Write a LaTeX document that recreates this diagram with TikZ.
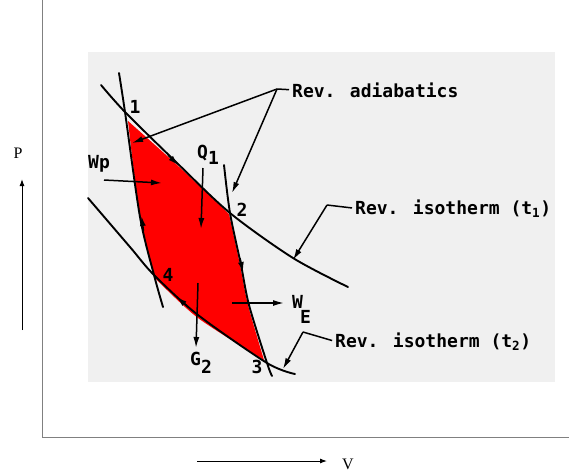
\documentclass[tikz,border=0pt]{standalone}
\usepackage{fontspec}
\setmainfont{Liberation Serif}
\newfontfamily\lettering{DejaVu Sans Mono}
\usetikzlibrary{arrows.meta}
\definecolor{axisgray}{HTML}{808080}
\definecolor{scangray}{HTML}{F0F0F0}
\definecolor{cyclered}{HTML}{FF0000}

\begin{document}
\begin{tikzpicture}[x=1pt, y=-1pt,
    curve/.style={line width=1.9pt, line cap=round},
    leader/.style={line width=1.5pt},
    arrow/.style={-{Latex[length=11pt,width=6pt]}, line width=1.5pt},
    flowtip/.style={-{Latex[length=10pt,width=6pt]}, line width=1.5pt},
    lbl/.style={font=\lettering\bfseries\fontsize{18}{20}\selectfont, inner sep=0pt},
    axis/.style={draw=axisgray, line width=0.8pt},
    axarrow/.style={-{Latex[length=7pt,width=5pt]}, line width=1pt},
    axlabel/.style={font=\fontsize{16}{18}\selectfont, inner sep=0pt}
]
    \useasboundingbox (0,0) rectangle (569,472);

    % scanned sheet
    \fill[scangray] (88,52) rectangle (555,382);

    % cycle area
    \fill[cyclered] plot[smooth] coordinates {(128,121) (176,164) (229,214)}
        -- plot[smooth] coordinates {(229,214) (240,265) (248,305) (264,360)}
        -- plot[smooth] coordinates {(264,360) (198,318) (155,278)}
        -- plot[smooth] coordinates {(155,278) (140,217) (128,121)} -- cycle;

    % state points
    \coordinate (p1) at (125,112);
    \coordinate (p2) at (230,213);
    \coordinate (p3) at (267,363);
    \coordinate (p4) at (154,275);

    % isotherms
    \draw[curve] plot[smooth] coordinates {(101,85) (p1) (176,162) (p2) (293,258) (348,287)};
    \draw[curve] plot[smooth] coordinates {(88,198) (130,247) (p4) (198,315) (p3) (295,374)};

    % adiabatics
    \draw[curve] plot[smooth] coordinates {(119,73) (p1) (140,217) (p4) (163,307)};
    \draw[curve] plot[smooth] coordinates {(224,165) (p2) (241,265) (249,305) (p3) (272,376)};

    % direction of the cycle
    \draw[flowtip] (168,155) -- (178,165);
    \draw[flowtip] (240,258) -- (243,272);
    \draw[flowtip] (188,307) -- (177,297);
    \draw[flowtip] (143.5,231) -- (141.5,216);

    % point labels
    \node[lbl] (n1) at (135,107) {1};
    \node[lbl] (n2) at (242,210) {2};
    \node[lbl] (n3) at (257,367) {3};
    \node[lbl] (n4) at (168,275) {4};

    % heat and work
    \node[lbl, anchor=base west] (wp) at (88,168) {Wp};
    \coordinate (wpfoot) at (104,180);
    \coordinate (wptip) at (162,183);
    \draw[arrow] (wpfoot) -- (wptip);

    \node[lbl, anchor=base west] (q1) at (197,158) {Q\raisebox{-6pt}{1}};
    \coordinate (q1foot) at (203,168);
    \coordinate (q1tip) at (201,229);
    \draw[arrow] (q1foot) -- (q1tip);

    \node[lbl, anchor=base west] (g2) at (190,365) {G\raisebox{-8pt}{2}};
    \coordinate (g2foot) at (198,283);
    \coordinate (g2tip) at (196,348);
    \draw[arrow] (g2foot) -- (g2tip);

    \node[lbl, anchor=base west] (we) at (292,308) {W\kern-3pt\raisebox{-15pt}{E}};
    \coordinate (wefoot) at (232,303);
    \coordinate (wetip) at (284,303);
    \draw[arrow] (wefoot) -- (wetip);

    % Rev. adiabatics
    \node[lbl, anchor=base west] (adtext) at (292,97) {Rev. adiabatics};
    \coordinate (adjoin) at (277,89);
    \coordinate (adtip1) at (132,143);
    \coordinate (adtip2) at (232,193);
    \draw[leader, shorten >=3pt] (adjoin) -- (adtext.west);
    \draw[arrow] (adjoin) -- (adtip1);
    \draw[arrow] (adjoin) -- (adtip2);

    % Rev. isotherm (t1)
    \node[lbl, anchor=base west] (t1text) at (355,214) {Rev. isotherm (t\textsubscript{1})};
    \coordinate (t1join) at (327,205);
    \coordinate (t1tip) at (293,260);
    \draw[leader, shorten >=3pt] (t1join) -- (t1text.west);
    \draw[arrow] (t1join) -- (t1tip);

    % Rev. isotherm (t2)
    \node[lbl, anchor=base west] (t2text) at (335,347) {Rev. isotherm (t\textsubscript{2})};
    \coordinate (t2join) at (303,332);
    \coordinate (t2tip) at (283,369);
    \draw[leader, shorten >=3pt] (t2join) -- (t2text.west);
    \draw[arrow] (t2join) -- (t2tip);

    % axes
    \coordinate (origin) at (42,437);
    \coordinate (ytop) at (42,0);
    \coordinate (xend) at (569,437);
    \draw[axis] (ytop) -- (origin) -- (xend);

    \node[axlabel] (plabel) at (18,153) {P};
    \coordinate (pfoot) at (22,330);
    \coordinate (ptip) at (22,179);
    \draw[axarrow] (pfoot) -- (ptip);

    \node[axlabel] (vlabel) at (348,464) {V};
    \coordinate (vfoot) at (197,461);
    \coordinate (vtip) at (327,461);
    \draw[axarrow] (vfoot) -- (vtip);
\end{tikzpicture}
\end{document}
